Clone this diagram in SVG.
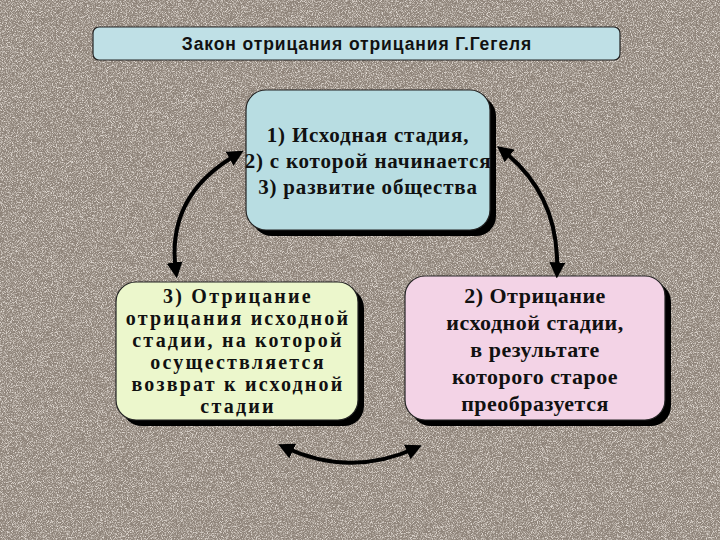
<svg xmlns="http://www.w3.org/2000/svg" width="720" height="540" viewBox="0 0 720 540">
<defs>
<filter id="noise" x="0" y="0" width="100%" height="100%"><feTurbulence type="fractalNoise" baseFrequency="1.2" numOctaves="2" seed="3"/><feColorMatrix type="matrix" values="0 0 0 0 0.75  0 0 0 0 0.7  0 0 0 0 0.65  0 0 0 3 -1.3"/></filter>
<marker id="ah" viewBox="0 0 10 10" refX="6" refY="5" markerWidth="4" markerHeight="4" orient="auto-start-reverse"><path d="M0,0 L10,5 L0,10 z" fill="#000"/></marker>
</defs>
<style>
.sh{fill:#000}
.box{stroke:#222;stroke-width:1.2}
.t{font-family:"Liberation Serif",serif;font-weight:bold;font-size:21px;fill:#111;text-anchor:middle}
.c{fill:none;stroke:#000;stroke-width:4;marker-start:url(#ah);marker-end:url(#ah)}
</style>
<rect width="720" height="540" fill="#8f847a"/>
<rect width="720" height="540" filter="url(#noise)"/>
<g id="title">
<rect x="93" y="27" width="527" height="33" rx="6" fill="#bfe0e6" class="box"/>
<text x="357" y="50" font-family="Liberation Sans,sans-serif" font-weight="bold" font-size="17.5" letter-spacing="0.9" fill="#111" text-anchor="middle">Закон отрицания отрицания Г.Гегеля</text>
</g>
<g id="top">
<rect x="252" y="96" width="244" height="140" rx="20" class="sh"/>
<rect x="246" y="90" width="244" height="140" rx="20" fill="#b8dde2" class="box"/>
<g class="t" letter-spacing="0.8">
<text x="368" y="142">1) Исходная стадия,</text>
<text x="368" y="168">2) с которой начинается</text>
<text x="368" y="194">3) развитие общества</text>
</g>
</g>
<g id="left">
<rect x="122" y="288" width="242" height="138" rx="20" class="sh"/>
<rect x="116" y="282" width="242" height="138" rx="20" fill="#ecf7cc" class="box"/>
<g class="t" font-size="20" letter-spacing="2.2" style="font-size:20px">
<text x="238" y="303">3) Отрицание</text>
<text x="238" y="325">отрицания исходной</text>
<text x="238" y="347">стадии, на которой</text>
<text x="238" y="369">осуществляется</text>
<text x="238" y="391">возврат к исходной</text>
<text x="238" y="413">стадии</text>
</g>
</g>
<g id="right">
<rect x="411" y="282" width="260" height="144" rx="20" class="sh"/>
<rect x="405" y="276" width="260" height="144" rx="20" fill="#f3d3e6" class="box"/>
<g class="t" letter-spacing="0.5" style="font-size:22px">
<text x="535" y="303">2) Отрицание</text>
<text x="535" y="330">исходной стадии,</text>
<text x="535" y="357">в результате</text>
<text x="535" y="384">которого старое</text>
<text x="535" y="411">преобразуется</text>
</g>
</g>
<g id="connectors">
<path class="c" d="M238,154 Q165,195 176,272"/>
<path class="c" d="M502,150 Q560,195 557,272"/>
<path class="c" d="M284,447 Q350,478 416,448"/>
</g>
</svg>
